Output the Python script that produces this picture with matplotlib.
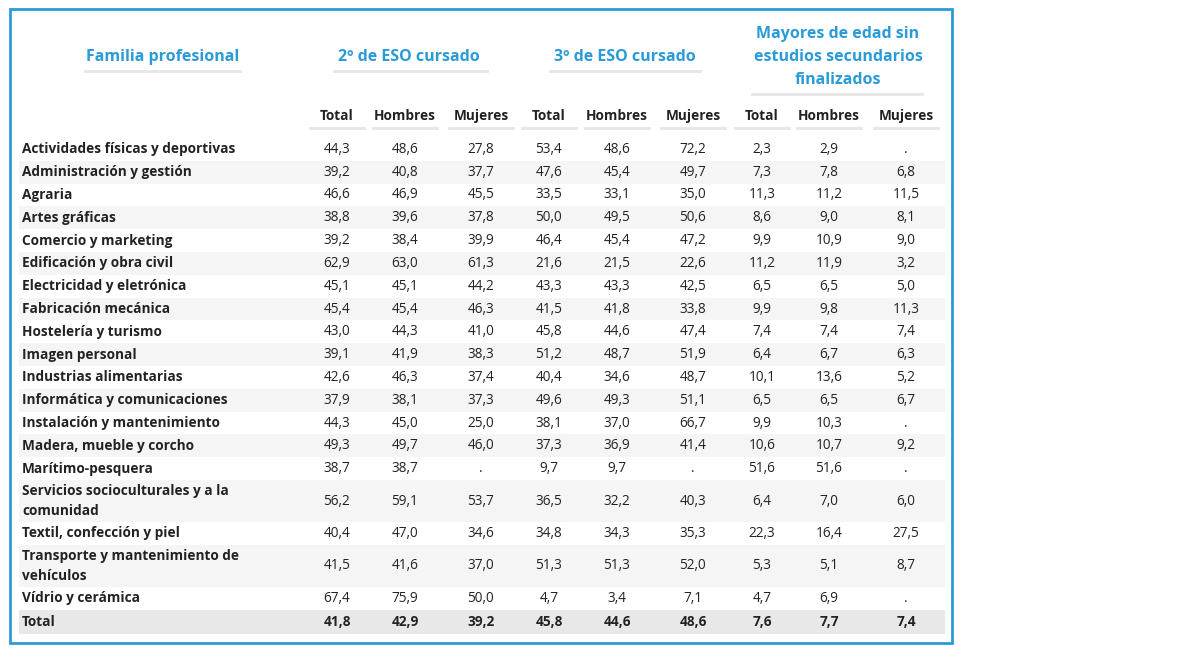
import matplotlib
matplotlib.use('Agg')
from matplotlib import pyplot as plt
from matplotlib.patches import Rectangle

plt.rcParams['font.family'] = ['Open Sans', 'DejaVu Sans']

familias = ["Actividades físicas y deportivas", "Administración y gestión", "Agraria",
            "Artes gráficas", "Comercio y marketing", "Edificación y obra civil",
            "Electricidad y eletrónica", "Fabricación mecánica", "Hostelería y turismo",
            "Imagen personal", "Industrias alimentarias", "Informática y comunicaciones",
            "Instalación y mantenimiento", "Madera, mueble y corcho", "Marítimo-pesquera",
            "Servicios socioculturales y a la\ncomunidad", "Textil, confección y piel",
            "Transporte y mantenimiento de\nvehículos", "Vídrio y cerámica", "Total"]

eso2_total = ["44,3", "39,2", "46,6", "38,8", "39,2", "62,9", "45,1", "45,4", "43,0", "39,1",
              "42,6", "37,9", "44,3", "49,3", "38,7", "56,2", "40,4", "41,5", "67,4", "41,8"]
eso2_hombres = ["48,6", "40,8", "46,9", "39,6", "38,4", "63,0", "45,1", "45,4", "44,3", "41,9",
                "46,3", "38,1", "45,0", "49,7", "38,7", "59,1", "47,0", "41,6", "75,9", "42,9"]
eso2_mujeres = ["27,8", "37,7", "45,5", "37,8", "39,9", "61,3", "44,2", "46,3", "41,0", "38,3",
                "37,4", "37,3", "25,0", "46,0", ".", "53,7", "34,6", "37,0", "50,0", "39,2"]
eso3_total = ["53,4", "47,6", "33,5", "50,0", "46,4", "21,6", "43,3", "41,5", "45,8", "51,2",
              "40,4", "49,6", "38,1", "37,3", "9,7", "36,5", "34,8", "51,3", "4,7", "45,8"]
eso3_hombres = ["48,6", "45,4", "33,1", "49,5", "45,4", "21,5", "43,3", "41,8", "44,6", "48,7",
                "34,6", "49,3", "37,0", "36,9", "9,7", "32,2", "34,3", "51,3", "3,4", "44,6"]
eso3_mujeres = ["72,2", "49,7", "35,0", "50,6", "47,2", "22,6", "42,5", "33,8", "47,4", "51,9",
                "48,7", "51,1", "66,7", "41,4", ".", "40,3", "35,3", "52,0", "7,1", "48,6"]
may_total = ["2,3", "7,3", "11,3", "8,6", "9,9", "11,2", "6,5", "9,9", "7,4", "6,4",
             "10,1", "6,5", "9,9", "10,6", "51,6", "6,4", "22,3", "5,3", "4,7", "7,6"]
may_hombres = ["2,9", "7,8", "11,2", "9,0", "10,9", "11,9", "6,5", "9,8", "7,4", "6,7",
               "13,6", "6,5", "10,3", "10,7", "51,6", "7,0", "16,4", "5,1", "6,9", "7,7"]
may_mujeres = [".", "6,8", "11,5", "8,1", "9,0", "3,2", "5,0", "11,3", "7,4", "6,3",
               "5,2", "6,7", ".", "9,2", ".", "6,0", "27,5", "8,7", ".", "7,4"]

grupos = ["Familia profesional", "2º de ESO cursado", "3º de ESO cursado",
          "Mayores de edad sin\nestudios secundarios\nfinalizados"]
subcols = ["Total", "Hombres", "Mujeres"] * 3
columnas = [eso2_total, eso2_hombres, eso2_mujeres, eso3_total, eso3_hombres, eso3_mujeres,
            may_total, may_hombres, may_mujeres]

W, H = 1180, 649
fig = plt.figure(figsize=(W / 100, H / 100), dpi=100)
ax = fig.add_axes([0, 0, 1, 1])
ax.set_xlim(0, W)
ax.set_ylim(H, 0)
ax.axis('off')

blue = '#2a9bd8'
ax.add_patch(Rectangle((10, 9), 942, 634, fill=False, edgecolor=blue, lw=2))

col_x = [337, 405, 481, 549, 617, 693, 762, 829, 906]
grupo_x = [163, 409, 625, 838]
grupo_ul = [(85, 240), (334, 487), (550, 700), (752, 922)]

for (g, gx, (a, b)) in zip(grupos, grupo_x, grupo_ul):
    ax.text(gx, 57, g, ha='center', va='center', color=blue,
            fontsize=11.5, fontweight='bold', linespacing=1.55)
    uly = 71 if '\n' not in g else 94
    ax.plot([a, b], [uly, uly], color='#e6e6e6', lw=2)

for x, s in zip(col_x, subcols):
    ax.text(x, 116, s, ha='center', va='center', fontsize=9.8, fontweight='bold', color='#222222')
    w = 27 if s == 'Total' else 32
    ax.plot([x - w, x + w], [128, 128], color='#e6e6e6', lw=2)

y = 138
for i, fam in enumerate(familias):
    h = 42 if '\n' in fam else 22.8
    if fam == 'Total':
        h = 24
        ax.add_patch(Rectangle((19, y), 926, h, color='#e8e8e8', lw=0))
    elif i % 2 == 1:
        ax.add_patch(Rectangle((19, y), 926, h, color='#f5f5f5', lw=0))
    yc = y + h / 2
    ax.text(22, yc, fam, ha='left', va='center', fontsize=9.8, fontweight='bold',
            color='#222222', linespacing=1.6)
    for x, col in zip(col_x, columnas):
        ax.text(x, yc, col[i], ha='center', va='center', fontsize=9.8, color='#222222',
                fontweight='bold' if fam == 'Total' else 'normal')
    y += h

fig.savefig('out.png', dpi=100)
